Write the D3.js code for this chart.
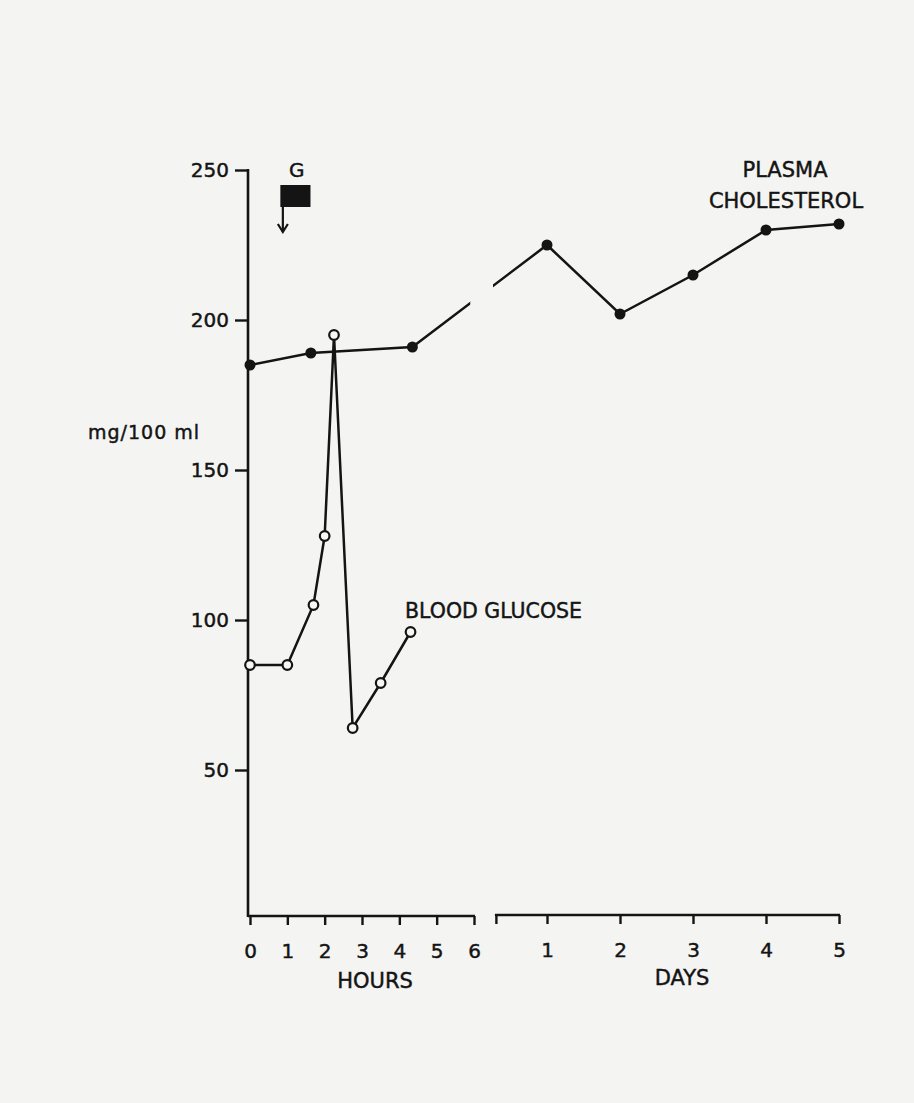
<!DOCTYPE html>
<html>
<head>
<meta charset="utf-8">
<script src="https://cdn.jsdelivr.net/npm/d3@7/dist/d3.min.js"></script>
<style>
  html, body { margin: 0; padding: 0; background: #f4f4f2; }
  svg { display: block; }
  text { font-family: "DejaVu Sans", sans-serif; fill: #141414; stroke: #141414; stroke-width: 0.45px; }
</style>
</head>
<body>
<svg id="chart" width="914" height="1103"></svg>
<script>
// ---- data ----
const hourTicks = [0, 1, 2, 3, 4, 5, 6];
const dayTicks = [1, 2, 3, 4, 5];
const yTicks = [50, 100, 150, 200, 250];

const glucoseHours = [0, 1, 1.7, 2.0, 2.25, 2.75, 3.5, 4.3];
const glucoseValues = [85, 85, 105, 128, 195, 64, 79, 96];

const cholHours = [0, 1.63, 4.35];
const cholHourValues = [185, 189, 191];
const cholDays = [1, 2, 3, 4, 5];
const cholDayValues = [225, 202, 215, 230, 232];

const glucoseDose = [0.88, 1.62]; // hours: start (arrow) and end of G block

const ink = "#141414";
const svg = d3.select("#chart");
svg.append("rect").attr("width", 914).attr("height", 1103).attr("fill", "#f4f4f2");

// ---- scales ----
const xH = d3.scaleLinear().domain([0, 6]).range([250, 474]);
const xD = d3.scaleLinear().domain([0, 5]).range([474, 839]);
const y = d3.scaleLinear().domain([0, 250]).range([920, 170]);
const axisY = 916;
const daysAxisStart = 0.3;
const fmt = d3.format("d");

function styleAxis(g) {
  g.select(".domain").remove();
  g.selectAll(".tick line").attr("stroke", ink).attr("stroke-width", 2.4);
  g.selectAll(".tick text").attr("font-size", 20).attr("font-family", "DejaVu Sans").attr("fill", ink);
}

// ---- y axis ----
const yAxis = d3.axisLeft(y).tickValues(yTicks).tickFormat(fmt).tickSize(13).tickPadding(6).tickSizeOuter(0);
svg.append("g").attr("transform", "translate(248,0)").call(yAxis).call(styleAxis);
svg.append("line").attr("x1", 248).attr("x2", 248).attr("y1", y(250) - 1).attr("y2", axisY + 1)
  .attr("stroke", ink).attr("stroke-width", 2.6);

// ---- hours axis ----
const hAxis = d3.axisBottom(xH).tickValues(hourTicks).tickFormat(fmt).tickSize(9).tickPadding(19).tickSizeOuter(0);
svg.append("g").attr("transform", `translate(0,${axisY})`).call(hAxis).call(styleAxis);
svg.append("line").attr("x1", 248).attr("x2", xH(6) + 1).attr("y1", axisY).attr("y2", axisY)
  .attr("stroke", ink).attr("stroke-width", 2.6);

// ---- days axis ----
const dAxis = d3.axisBottom(xD).tickValues([daysAxisStart].concat(dayTicks)).tickSize(9).tickPadding(19)
  .tickFormat(d => d === daysAxisStart ? "" : fmt(d)).tickSizeOuter(0);
svg.append("g").attr("transform", `translate(0,${axisY - 1})`).call(dAxis).call(styleAxis);
svg.append("line").attr("x1", xD(daysAxisStart) - 1).attr("x2", xD(5) + 1).attr("y1", axisY - 1).attr("y2", axisY - 1)
  .attr("stroke", ink).attr("stroke-width", 2.6);

// ---- axis titles ----
svg.append("text").attr("x", 375).attr("y", 988).attr("text-anchor", "middle").attr("font-size", 21).text("HOURS");
svg.append("text").attr("x", 682).attr("y", 985).attr("text-anchor", "middle").attr("font-size", 21).text("DAYS");
svg.append("text").attr("x", 88).attr("y", 439).attr("font-size", 19).attr("letter-spacing", 1).text("mg/100 ml");

// ---- G marker ----
const gx0 = xH(glucoseDose[0]), gx1 = xH(glucoseDose[1]);
svg.append("rect").attr("x", gx0 - 2.5).attr("y", 185).attr("width", gx1 - gx0 + 2.5).attr("height", 22).attr("fill", ink);
svg.append("line").attr("x1", gx0).attr("x2", gx0).attr("y1", 207).attr("y2", 232)
  .attr("stroke", ink).attr("stroke-width", 2.2);
svg.append("path").attr("d", `M${gx0 - 5},${224} L${gx0},${232} L${gx0 + 5},${224}`)
  .attr("fill", "none").attr("stroke", ink).attr("stroke-width", 2.2);
svg.append("text").attr("x", (gx0 + gx1) / 2).attr("y", 177).attr("text-anchor", "middle").attr("font-size", 20).text("G");

// ---- cholesterol line (broken at the axis gap) ----
const cholPts = cholHours.map((h, i) => [xH(h), y(cholHourValues[i])])
  .concat(cholDays.map((d, i) => [xD(d), y(cholDayValues[i])]));
const clip = svg.append("defs").append("clipPath").attr("id", "gapclip");
clip.append("rect").attr("x", 0).attr("y", 0).attr("width", xH(5.9)).attr("height", 1103);
clip.append("rect").attr("x", xD(0.26)).attr("y", 0).attr("width", 914).attr("height", 1103);

// ---- glucose line ----
const line = d3.line();
const gluPts = glucoseHours.map((h, i) => [xH(h), y(glucoseValues[i])]);
svg.append("path").attr("d", line(gluPts)).attr("fill", "none").attr("stroke", ink)
  .attr("stroke-width", 2.5).attr("stroke-linejoin", "miter");

svg.append("path").attr("d", line(cholPts)).attr("fill", "none").attr("stroke", ink)
  .attr("stroke-width", 2.5).attr("clip-path", "url(#gapclip)");

svg.selectAll("circle.chol").data(cholPts).join("circle").attr("class", "chol")
  .attr("cx", d => d[0]).attr("cy", d => d[1]).attr("r", 5.5).attr("fill", ink);

svg.selectAll("circle.glu").data(gluPts).join("circle").attr("class", "glu")
  .attr("cx", d => d[0]).attr("cy", d => d[1]).attr("r", 4.8)
  .attr("fill", "#f7f7f5").attr("stroke", ink).attr("stroke-width", 2.2);

// ---- series labels ----
svg.append("text").attr("x", 405).attr("y", 618).attr("font-size", 20.5).text("BLOOD GLUCOSE");
svg.append("text").attr("x", 785).attr("y", 177).attr("text-anchor", "middle").attr("font-size", 21).text("PLASMA");
svg.append("text").attr("x", 786).attr("y", 208).attr("text-anchor", "middle").attr("font-size", 21).text("CHOLESTEROL");
</script>
</body>
</html>
